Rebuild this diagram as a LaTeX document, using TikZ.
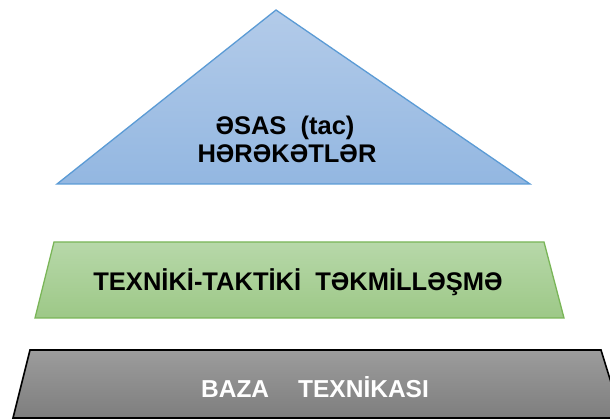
\documentclass[tikz,border=0pt]{standalone}
\usepackage{fontspec}
\setmainfont{Liberation Sans}
\begin{document}
\begin{tikzpicture}[x=1pt,y=-1pt,
  label/.style={font=\fontsize{25.5}{30}\selectfont\bfseries, inner sep=0pt, anchor=base},
  baselabel/.style={font=\fontsize{24.5}{29}\selectfont\bfseries, inner sep=0pt, anchor=base, text=white},
  topshape/.style={draw=blueedge, line width=1.3pt, top color=bluetop, bottom color=bluebot},
  midshape/.style={draw=greenedge, line width=1.3pt, top color=greentop, bottom color=greenbot},
  baseshape/.style={draw=black, line width=1.6pt, top color=graytop, bottom color=graybot}]
\definecolor{bluetop}{HTML}{B3CBE9}
\definecolor{bluebot}{HTML}{93B7E1}
\definecolor{blueedge}{HTML}{5B9BD5}
\definecolor{greentop}{HTML}{B7D8A9}
\definecolor{greenbot}{HTML}{9DC887}
\definecolor{greenedge}{HTML}{79B557}
\definecolor{graytop}{HTML}{9C9C9C}
\definecolor{graybot}{HTML}{7E7E7E}
\useasboundingbox (0,0) rectangle (610,419);
\clip (0,0) rectangle (610,419);
% top triangle
\draw[topshape] (276,10) -- (530,184) -- (57,184) -- cycle;
% middle trapezoid
\draw[midshape] (54,242) -- (544,242) -- (564,318) -- (35,318) -- cycle;
% base trapezoid
\draw[baseshape] (30,350) -- (601,350) -- (622,418) -- (13,418) -- cycle;
% labels
\node[label] (top1) at (285,135) {ƏSAS\ \ (tac)};
\node[label] (top2) at (287,163) {HƏRƏKƏTLƏR};
\node[label] (mid) at (298,291) {TEXNİKİ-TAKTİKİ\ \ TƏKMİLLƏŞMƏ};
\node[baselabel] (base) at (315,397) {BAZA\hspace{29pt}TEXNİKASI};
\end{tikzpicture}
\end{document}
